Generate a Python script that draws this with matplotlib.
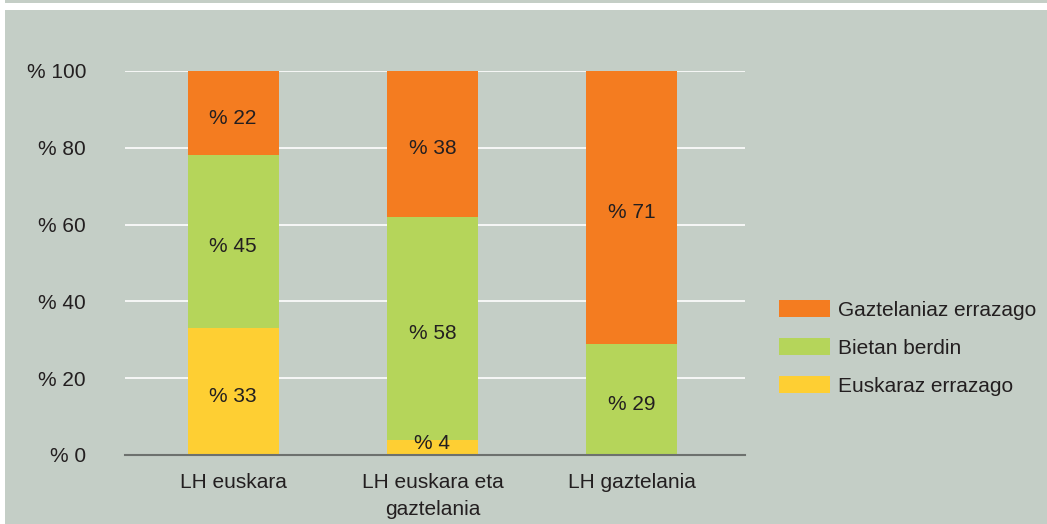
import matplotlib.pyplot as plt
from matplotlib.patches import Rectangle, Patch

categories = ["LH euskara", "LH euskara eta\ngaztelania", "LH gaztelania"]
series_names = ["Euskaraz errazago", "Bietan berdin", "Gaztelaniaz errazago"]
euskaraz = [33, 4, 0]
bietan = [45, 58, 29]
gaztelaniaz = [22, 38, 71]
yticks = [0, 20, 40, 60, 80, 100]

colors = ["#fecf33", "#b5d55a", "#f47c20"]
bg = "#c4cec6"
txt = "#231f20"
fs = 15

plt.rcParams['font.family'] = ['Liberation Sans', 'DejaVu Sans']

W, H = 1047, 524
fig = plt.figure(figsize=(W / 100, H / 100), dpi=100, facecolor="white")

# background panel and top stripe
fig.patches.append(Rectangle((5 / W, 0), 1 - 5 / W, 1 - 10 / H, transform=fig.transFigure,
                             facecolor=bg, edgecolor="none", zorder=-10))
fig.patches.append(Rectangle((5 / W, 1 - 2.5 / H), 1 - 5 / W, 2.5 / H, transform=fig.transFigure,
                             facecolor=bg, edgecolor="none", zorder=-10))

ax = fig.add_axes([125 / W, 1 - 455 / H, (745 - 125) / W, (455 - 71) / H])
ax.set_facecolor("none")

x = list(range(len(categories)))
width = 91 / 199
bottoms = [0, 0, 0]
for name, vals, c in zip(series_names, [euskaraz, bietan, gaztelaniaz], colors):
    bars = ax.bar(x, vals, width, bottom=bottoms, color=c, label=name, zorder=3)
    for b, v, bt in zip(bars, vals, bottoms):
        if v > 0:
            ypos = bt + v / 2 - 1.3 if v >= 8 else bt + 3.1
            ax.text(b.get_x() + b.get_width() / 2, ypos, "% " + str(v),
                    ha="center", va="center", fontsize=fs, color=txt, zorder=4)
    bottoms = [b + v for b, v in zip(bottoms, vals)]

ax.set_xlim(-108 / 199, 2 + 113 / 199)
ax.set_ylim(0, 100)
ax.set_yticks(yticks)
ax.set_yticklabels(["% " + str(t) for t in yticks])
ax.yaxis.grid(True, color="white", linewidth=1.2, zorder=0)
ax.set_axisbelow(True)
ax.tick_params(axis="y", length=0, pad=28, labelsize=fs, labelcolor=txt)
ax.tick_params(axis="x", length=0, pad=13, labelsize=fs, labelcolor=txt)
ax.set_xticks(x)
ax.set_xticklabels(categories, linespacing=1.5, va="top")
for s in ["top", "right", "left"]:
    ax.spines[s].set_visible(False)
ax.spines["bottom"].set_color("#6d716e")
ax.spines["bottom"].set_linewidth(1.5)
ax.spines["bottom"].set_zorder(5)

handles = [Patch(facecolor=colors[2]), Patch(facecolor=colors[1]), Patch(facecolor=colors[0])]
labels = [series_names[2], series_names[1], series_names[0]]
fig.legend(handles, labels, loc="upper left", bbox_to_anchor=(760 / W, 1 - 281 / H),
           frameon=False, fontsize=fs, handlelength=2.45, handleheight=0.9,
           labelspacing=0.87, handletextpad=0.38, labelcolor=txt)

fig.savefig("out.png", dpi=100, facecolor="white")
